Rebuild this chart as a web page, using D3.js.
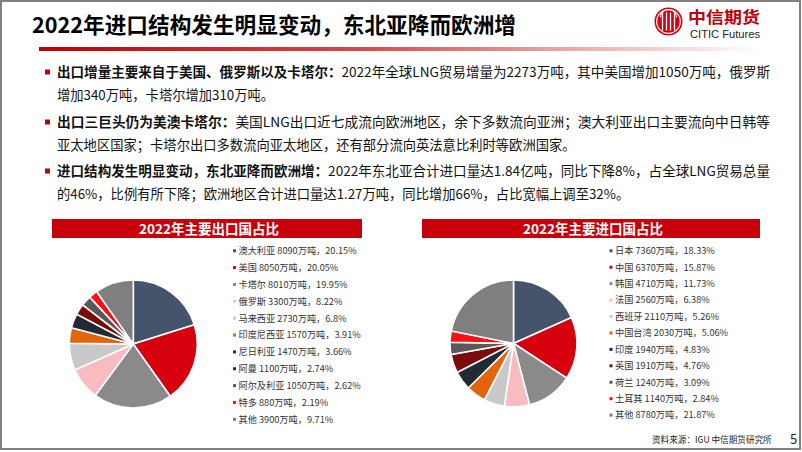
<!DOCTYPE html>
<html><head><meta charset="utf-8">
<script src="https://cdn.jsdelivr.net/npm/d3@7"></script>
<style>
html,body{margin:0;padding:0;background:#fff;}
svg{display:block;font-family:"Noto Sans CJK SC","Noto Sans",sans-serif;}
</style></head>
<body>
<svg id="c" width="802" height="452"></svg>
<script>
const title = "2022年进口结构发生明显变动，东北亚降而欧洲增";
const bullets = [
  {bold:"出口增量主要来自于美国、俄罗斯以及卡塔尔：", lines:["2022年全球LNG贸易增量为2273万吨，其中美国增加1050万吨，俄罗斯","增加340万吨，卡塔尔增加310万吨。"]},
  {bold:"出口三巨头仍为美澳卡塔尔：", lines:["美国LNG出口近七成流向欧洲地区，余下多数流向亚洲；澳大利亚出口主要流向中日韩等","亚太地区国家；卡塔尔出口多数流向亚太地区，还有部分流向英法意比利时等欧洲国家。"]},
  {bold:"进口结构发生明显变动，东北亚降而欧洲增：", lines:["2022年东北亚合计进口量达1.84亿吨，同比下降8%，占全球LNG贸易总量","的46%，比例有所下降；欧洲地区合计进口量达1.27万吨，同比增加66%，占比宽幅上调至32%。"]}
];
const exportTitle = "2022年主要出口国占比";
const exportNames = ["澳大利亚","美国","卡塔尔","俄罗斯","马来西亚","印度尼西亚","尼日利亚","阿曼","阿尔及利亚","特多","其他"];
const exportValues = [8090,8050,8010,3300,2730,1570,1470,1100,1050,880,3900];
const exportPcts = ["20.15","20.05","19.95","8.22","6.8","3.91","3.66","2.74","2.62","2.19","9.71"];
const importTitle = "2022年主要进口国占比";
const importNames = ["日本","中国","韩国","法国","西班牙","中国台湾","印度","英国","荷兰","土耳其","其他"];
const importValues = [7360,6370,4710,2560,2110,2030,1940,1910,1240,1140,8780];
const importPcts = ["18.33","15.87","11.73","6.38","5.26","5.06","4.83","4.76","3.09","2.84","21.87"];
const sliceColors = ["#44546a","#d6000f","#8a8a8a","#f8bcc0","#c9c9c9","#e2650c","#222a35","#7a0c0c","#595959","#ff1010","#7f7f7f"];
const sourceText = "资料来源：IGU 中信期货研究所";
const pageNo = "5";

const svg = d3.select("#c");

// frame
svg.append("rect").attr("x",1).attr("y",1).attr("width",799).attr("height",448)
  .attr("fill","none").attr("stroke","#808080").attr("stroke-width",2);

// gradient bar
const defs = svg.append("defs");
const g1 = defs.append("linearGradient").attr("id","rg").attr("x1","0").attr("x2","1");
g1.append("stop").attr("offset","0").attr("stop-color","#c00000");
g1.append("stop").attr("offset","0.45").attr("stop-color","#d84a4a");
g1.append("stop").attr("offset","1").attr("stop-color","#ffffff");
svg.append("rect").attr("x",39).attr("y",47).attr("width",722).attr("height",4).attr("fill","url(#rg)");

// title
svg.append("text").attr("x",32).attr("y",33).attr("font-size",21.5).attr("font-weight","bold")
  .attr("fill","#000").attr("textLength",484).attr("lengthAdjust","spacingAndGlyphs").text(title);

// logo
const logo = svg.append("g").attr("transform","translate(668.5,21.5)");
logo.append("circle").attr("r",14).attr("fill","#d7000f");
logo.append("circle").attr("r",11.8).attr("fill","none").attr("stroke","#fff").attr("stroke-width",1.2);
[-6,-2,2,6].forEach(x=>{
  logo.append("line").attr("x1",x).attr("x2",x).attr("y1",-9).attr("y2",9).attr("stroke","#fff").attr("stroke-width",1.3);
});
logo.append("path").attr("d","M-8,-4 A8,8 0 0 1 8,-4").attr("fill","none").attr("stroke","#fff").attr("stroke-width",1.2);
svg.append("text").attr("x",688).attr("y",23).attr("font-size",16).attr("font-weight","bold")
  .attr("fill","#c0000c").attr("textLength",72).attr("lengthAdjust","spacingAndGlyphs").text("中信期货");
svg.append("text").attr("x",690).attr("y",37.5).attr("font-size",10).attr("font-family","Liberation Sans Narrow, Liberation Sans, sans-serif")
  .attr("fill","#222").attr("textLength",70).attr("lengthAdjust","spacingAndGlyphs").text("CITIC Futures");

// bullets
const bulletY = [[77,100],[127,150],[176,199]];
const fullW = 713;
bullets.forEach((b,i)=>{
  svg.append("rect").attr("x",45).attr("y",bulletY[i][0]-7.5).attr("width",5).attr("height",5).attr("fill","#c00000");
  const t1 = svg.append("text").attr("x",57).attr("y",bulletY[i][0]).attr("font-size",13.3).attr("fill","#111")
     .attr("textLength",fullW).attr("lengthAdjust","spacingAndGlyphs");
  t1.append("tspan").attr("font-weight","bold").text(b.bold);
  t1.append("tspan").text(b.lines[0]);
  svg.append("text").attr("x",57).attr("y",bulletY[i][1]).attr("font-size",13.3).attr("fill","#111").text(b.lines[1]);
});

function panel(x0, x1, heading, names, values, pcts, cx, cy, r, legX, legY0, legStep){
  svg.append("rect").attr("x",x0).attr("y",219).attr("width",x1-x0).attr("height",19).attr("fill","#c8000c");
  svg.append("text").attr("x",(x0+x1)/2+2).attr("y",233.5).attr("text-anchor","middle").attr("font-size",13.5)
    .attr("font-weight","bold").attr("fill","#fff").text(heading);
  const data = names.map((n,i)=>({name:n,value:values[i],pct:pcts[i],i}));
  const pie = d3.pie().sort(null).value(d=>d.value);
  const arc = d3.arc().innerRadius(0).outerRadius(r);
  const g = svg.append("g").attr("transform",`translate(${cx},${cy})`);
  g.selectAll("path").data(pie(data)).join("path").attr("d",arc)
    .attr("fill",d=>sliceColors[d.data.i]).attr("stroke","#fff").attr("stroke-width",1.6);
  const y = d3.scalePoint().domain(names).range([legY0, legY0+legStep*(names.length-1)]);
  const lg = svg.append("g");
  data.forEach(d=>{
    lg.append("rect").attr("x",legX).attr("y",y(d.name)-1.5).attr("width",3).attr("height",3).attr("fill",sliceColors[d.i]);
    lg.append("text").attr("x",legX+5.5).attr("y",y(d.name)+3.3).attr("font-size",9.2).attr("fill","#333")
      .text(`${d.name} ${d.value}万吨，${d.pct}%`);
  });
}
panel(52,362,exportTitle,exportNames,exportValues,exportPcts,133.3,344,64,233,250.8,16.85);
panel(422,760,importTitle,importNames,importValues,importPcts,513.5,343.4,63.5,609.5,250.8,16.43);

// footer
svg.append("text").attr("x",652).attr("y",442.5).attr("font-size",8.6).attr("fill","#222").text(sourceText);
svg.append("text").attr("x",790).attr("y",444).attr("font-size",13).attr("fill","#222").text(pageNo);
</script>
</body></html>
